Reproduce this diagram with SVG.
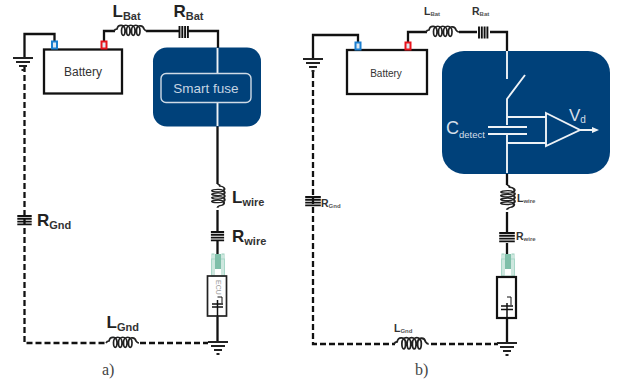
<svg xmlns="http://www.w3.org/2000/svg" width="622" height="383" viewBox="0 0 622 383">
<style>
text{font-family:"Liberation Sans",Arial,sans-serif;fill:#333}
.w{fill:none;stroke:#111;stroke-width:2.300}
.d{fill:none;stroke:#111;stroke-width:2.300;stroke-dasharray:6 3}
.c{fill:none;stroke:#222;stroke-width:1.700}
.r{fill:none;stroke:#111;stroke-width:1.900}
.x{fill:none;stroke:#eef2f6;stroke-width:1.900}
.g{fill:none;stroke:#222;stroke-width:1.800}
.box{fill:#fff;stroke:#111;stroke-width:2.300}
.blue{fill:#00417a}
.lab{font-size:17px;font-weight:bold;fill:#222}
.sm{font-size:10.500px;font-weight:bold;fill:#333}
.sub{font-size:11px;font-weight:bold;fill:#333}
.sub2{font-size:6px;font-weight:bold;fill:#555}
.cap{font-family:"Liberation Serif",serif;font-size:16px;fill:#444}
</style>
<defs>
<path id="coil" class="c" d="M0 0c1-2 2-2 3-2c1-5 8-5 8 1.500c0 6.500-3.500 6.500-3.500 0c0-7 8.500-7 8.500 0c0 6.500-3.500 6.500-3.500 0c0-7 8.500-7 8.500 0c0 6.500-3.500 6.500-3.500 0c0-7 8.500-7 8.500 0c0 6.500-3.500 6.500-3.500 0c0-6 6.500-6 7.500-1.500c1 1.500 2 2 3 2"/>
<path id="res" class="r" d="M0-6v12M2.800-6v12M5.600-6v12M8.400-6v12"/>
<path id="gnd" class="g" d="M-10 0H10M-7 4H7M-4 8H4M-1.500 12H1.500"/>
<g id="pin"><rect x="-2.500" y="-3.500" width="5" height="7" fill="#dfe8f0" stroke-width="2"/></g>
<g id="load">
<rect x="-6" y="0" width="2" height="22" fill="none" stroke="#9ccfbe" stroke-width="1"/>
<rect x="4" y="0" width="2" height="22" fill="none" stroke="#9ccfbe" stroke-width="1"/>
<rect x="-6.500" y="5" width="13" height="17" fill="none" stroke="#a8d8c8" stroke-width="1"/>
<rect x="-3" y="0" width="6" height="15" fill="#7fbfa9"/>
</g>
</defs>

<g id="connectors">
<path class="w" d="M24.500 58V34H54.500V42"/>
<path class="w" d="M104 42V31H115M146 31H179M188 31H218V48"/>
<path class="w" d="M217.500 126V184M217.500 210V231M217.500 241V254M217.500 316V342"/>
<path class="d" d="M24.500 66V343H107M140 343H208"/>
<path class="w" d="M313 59V35H358V43"/>
<path class="w" d="M408 43V32H427M459 32H477M490 32H507V51"/>
<path class="w" d="M507 174V185M507 212V233M507 243V254M507 318V343"/>
<path class="d" d="M313 72V344H395M431 344H498"/>
</g>

<g id="battery-a">
<rect class="box" x="44" y="49.500" width="78" height="44"/>
<use href="#pin" x="54.500" y="45" stroke="#1b7fd0"/>
<use href="#pin" x="104" y="45" stroke="#e8141c"/>
<text x="83" y="76" font-size="12" text-anchor="middle">Battery</text>
</g>
<g id="gnd-a1"><use href="#gnd" x="23" y="58"/></g>
<g id="lbat-a"><use href="#coil" x="114" y="31"/>
<text class="lab" x="112.500" y="17">L<tspan class="sub" dy="3">Bat</tspan></text></g>
<g id="rbat-a"><use href="#res" x="179.500" y="32"/>
<text class="lab" x="173.500" y="17">R<tspan class="sub" dy="3">Bat</tspan></text></g>
<g id="fuse">
<rect class="blue" x="153" y="47.500" width="108" height="79" rx="14"/>
<path class="x" d="M217.500 48V73M217.500 103V126"/>
<rect x="161" y="73.500" width="90" height="29" rx="5" fill="none" stroke="#cfdbe6" stroke-width="1.400"/>
<text x="206" y="93" font-size="13.500" text-anchor="middle" style="fill:#c6d4e2">Smart fuse</text>
</g>
<g id="lwire-a"><use href="#coil" transform="translate(217.500 184) rotate(90) scale(.72 1.250)"/>
<text class="lab" x="232" y="203">L<tspan class="sub" dy="3">wire</tspan></text></g>
<g id="rwire-a"><use href="#res" transform="translate(217.500 232) rotate(90) scale(1 1.100)"/>
<text class="lab" x="232" y="242">R<tspan class="sub" dy="3">wire</tspan></text></g>
<g id="ecu-a"><use href="#load" x="218" y="254"/>
<rect x="207.500" y="276" width="19" height="40" fill="none" stroke="#222" stroke-width="1.700"/>
<text transform="translate(216 280) rotate(90)" font-size="7" style="fill:#999">ECU</text>
<path d="M217.500 300V316M212 304H223M212 307H223" fill="none" stroke="#111" stroke-width="1.500"/>
<path d="M217.500 297H222V303" fill="none" stroke="#111" stroke-width="1"/>
</g>
<g id="gnd-a2"><use href="#gnd" x="218" y="342"/></g>
<g id="rgnd-a"><use href="#res" transform="translate(24.500 216) rotate(90) scale(1 1.200)"/>
<text class="lab" x="37" y="226">R<tspan class="sub" dy="3">Gnd</tspan></text></g>
<g id="lgnd-a"><use href="#coil" x="106" y="343"/>
<text class="lab" x="106.500" y="328">L<tspan class="sub" dy="3">Gnd</tspan></text></g>
<text class="cap" x="102" y="375">a)</text>

<g id="battery-b">
<rect class="box" x="347" y="50" width="80" height="44"/>
<use href="#pin" x="358" y="46" stroke="#1b7fd0"/>
<use href="#pin" x="408" y="46" stroke="#e8141c"/>
<text x="386" y="77" font-size="10" text-anchor="middle">Battery</text>
</g>
<g id="gnd-b1"><use href="#gnd" x="313" y="59"/></g>
<g id="lbat-b"><use href="#coil" x="426" y="32"/>
<text class="sm" x="424" y="15">L<tspan class="sub2" dy="1">Bat</tspan></text></g>
<g id="rbat-b"><use href="#res" x="479" y="32.500"/>
<text class="sm" x="472" y="15">R<tspan class="sub2" dy="1">Bat</tspan></text></g>
<g id="detector">
<rect class="blue" x="442" y="51" width="168" height="123" rx="22"/>
<path class="x" d="M507 51V79M525 75L507 99V125M507 134V173M488 127H527M488 134H527M507 117H546M507 143H546M580 130H592"/>
<path class="x" d="M546 113L580 130L546 146Z"/>
<path d="M592 127L599 130L592 133Z" fill="#eef2f6"/>
<text x="446" y="134" font-size="18" style="fill:#d5dfe9">C<tspan font-size="9.500" dy="4">detect</tspan></text>
<text x="569" y="121" font-size="17" style="fill:#d5dfe9">V<tspan font-size="10" dy="2">d</tspan></text>
</g>
<g id="lwire-b"><use href="#coil" transform="translate(507 185) rotate(90) scale(.75 1.350)"/>
<text class="sm" x="517" y="202">L<tspan class="sub2" dy="1">wire</tspan></text></g>
<g id="rwire-b"><use href="#res" transform="translate(507 233) rotate(90) scale(1 1.300)"/>
<text class="sm" x="516" y="240">R<tspan class="sub2" dy="1">wire</tspan></text></g>
<g id="ecu-b"><use href="#load" x="508" y="254"/>
<rect x="497" y="277" width="19" height="41" fill="none" stroke="#111" stroke-width="2.200"/>
<path d="M507 303V318M501 306H513M501 309.500H513" fill="none" stroke="#111" stroke-width="1.500"/>
<path d="M507 297H511V305" fill="none" stroke="#111" stroke-width="1"/>
</g>
<g id="gnd-b2"><use href="#gnd" x="507" y="343"/></g>
<g id="rgnd-b"><use href="#res" transform="translate(313 197) rotate(90) scale(1 1.300)"/>
<text class="sm" x="321" y="207">R<tspan class="sub2" dy="1">Gnd</tspan></text></g>
<g id="lgnd-b"><use href="#coil" transform="translate(394 344) scale(1.050 1.100)"/>
<text class="sm" x="394" y="332">L<tspan class="sub2" dy="1">Gnd</tspan></text></g>
<text class="cap" x="415" y="375">b)</text>
</svg>
